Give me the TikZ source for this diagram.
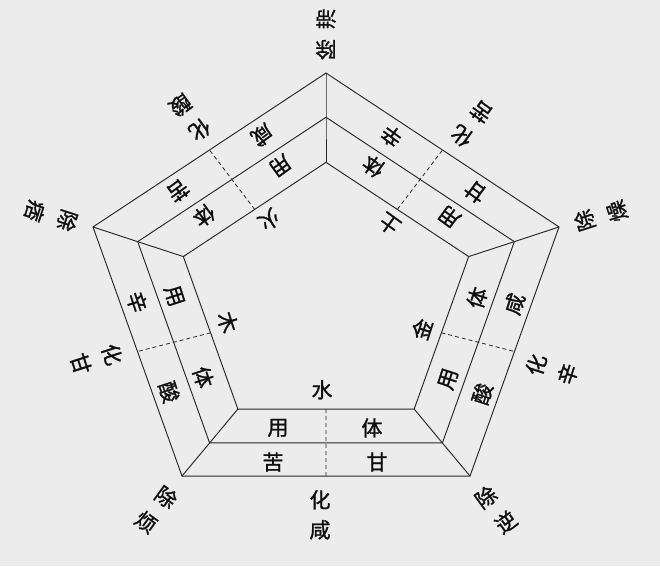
\documentclass[tikz,border=0pt]{standalone}
\usepackage{fontspec}
\newfontfamily\cjk[FakeBold=1.2]{Noto Sans CJK SC}
\usetikzlibrary{calc}
\definecolor{bg}{RGB}{236,236,236}
\definecolor{ln}{RGB}{40,40,40}
\definecolor{tx}{RGB}{15,15,15}
\begin{document}
\begin{tikzpicture}[x=1pt,y=1pt,
  lbl/.style={font=\cjk\fontsize{21}{21}\selectfont, text=tx, inner sep=0pt},
  pent/.style={draw=ln, line width=0.95pt, line join=miter},
  divider/.style={draw=ln, line width=0.8pt, dash pattern=on 4pt off 3pt}]
\fill[bg] (0,0) rectangle (660,-566);
\useasboundingbox (0,0) rectangle (660,-566);
% pentagon vertices
\begin{scope}[shift={(326,-295.8)}, yscale=0.9093]
  \foreach \i/\a in {1/90,2/18,3/-54,4/-126,5/162} \coordinate (O\i) at (\a:245);
\end{scope}
\begin{scope}[shift={(326,-297.3)}, yscale=0.9093]
  \foreach \i/\a in {1/90,2/18,3/-54,4/-126,5/162} \coordinate (M\i) at (\a:198);
\end{scope}
\begin{scope}[shift={(326,-298.7)}, yscale=0.9093]
  \foreach \i/\a in {1/90,2/18,3/-54,4/-126,5/162} \coordinate (I\i) at (\a:150);
\end{scope}
\draw[pent] (O1)--(O2)--(O3)--(O4)--(O5)--cycle;
\draw[pent] (M1)--(M2)--(M3)--(M4)--(M5)--cycle;
\draw[pent] (I1)--(I2)--(I3)--(I4)--(I5)--cycle;
\foreach \i in {1,...,5} \draw[pent] (O\i)--(M\i)--(I\i);
% dashed dividers at side midpoints
\foreach \i/\j in {1/2,2/3,3/4,4/5,5/1} {
  \coordinate (di\i) at ($(I\i)!0.5!(I\j)$);
  \coordinate (do\i) at ($(O\i)!0.5!(O\j)$);
  \draw[divider] (di\i) -- (do\i);
}
% side labels
\begin{scope}[shift={(326,-297)}, yscale=0.9093]
  \foreach \a/\e/\p/\q/\h [count=\n] in {0/水/苦/甘/咸, 72/金/酸/咸/辛, 144/土/甘/辛/苦, 216/火/咸/苦/酸, 288/木/辛/酸/甘} {
    \begin{scope}[rotate=\a]
      \node[lbl, rotate=\a] (el\n) at (-4,-102) {\e};
      \node[lbl, rotate=\a] (yong\n) at (-48,-144) {用};
      \node[lbl, rotate=\a] (ti\n) at (46,-144) {体};
      \node[lbl, rotate=\a] (yw\n) at (-53,-181.5) {\p};
      \node[lbl, rotate=\a] (tw\n) at (51,-181.5) {\q};
      \node[lbl, rotate=\a] (hua\n) at (-6,-223) {化};
      \node[lbl, rotate=\a] (hx\n) at (-6,-256) {\h};
    \end{scope}
  }
  \foreach \a/\c [count=\n] in {-36/烦, 36/逆, 108/燥, 180/滞, 252/痞} {
    \begin{scope}[rotate=\a]
      \node[lbl, rotate=\a] (chu\n) at (0,-272) {除};
      \node[lbl, rotate=\a] (cc\n) at (0,-306) {\c};
    \end{scope}
  }
\end{scope}
\end{tikzpicture}
\end{document}
